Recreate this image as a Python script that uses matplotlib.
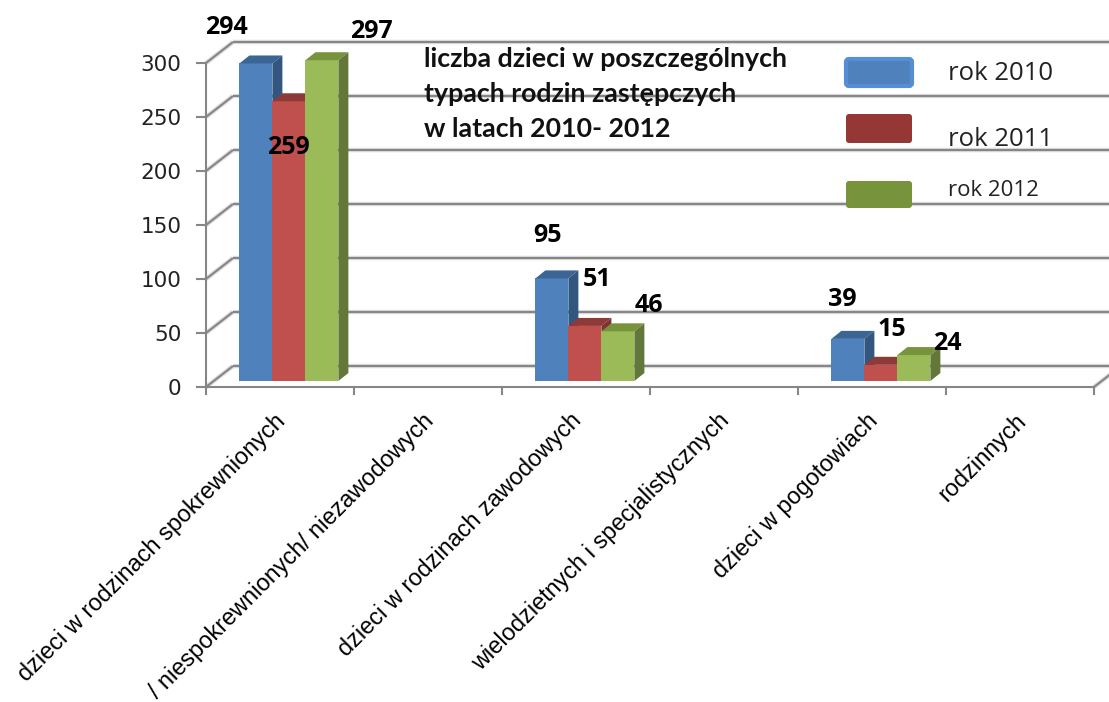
import matplotlib
matplotlib.use('Agg')
import matplotlib.pyplot as plt
from matplotlib.patches import FancyBboxPatch
from matplotlib.transforms import Affine2D

# Dane
kategorie = ['dzieci w rodzinach spokrewnionych', '/ niespokrewnionych/ niezawodowych',
             'dzieci w rodzinach zawodowych', 'wielodzietnych i specjalistycznych',
             'dzieci w pogotowiach', 'rodzinnych']
rok_2010 = [294, 0, 95, 0, 39, 0]
rok_2011 = [259, 0, 51, 0, 15, 0]
rok_2012 = [297, 0, 46, 0, 24, 0]
serie = ['rok 2010', 'rok 2011', 'rok 2012']
y_ticks = [0, 50, 100, 150, 200, 250, 300]
tytul = 'liczba dzieci w poszczególnych\ntypach rodzin zastępczych\nw latach 2010- 2012'

W, H = 1109, 702
SZARY = '#868686'
# kolory: przod, gora, bok
kolory = [('#4f81bd', '#3a6595', '#325680'),
          ('#c0504d', '#8e3a38', '#7f3331'),
          ('#9bbb59', '#77933c', '#64773a')]

fig = plt.figure(figsize=(W / 100, H / 100), dpi=100)
# os: przednia krawedz wykresu, x 206-1094, y 387-63 px
ax = fig.add_axes([206 / W, (H - 387) / H, 888 / W, 324 / H])
ax.set_xlim(0, 6)
ax.set_ylim(0, 300)
ax.patch.set_alpha(0)

px_x = 6 / 888
px_y = 300 / 324
glebia_x, glebia_y = 27 * px_x, 21 * px_y
bar_w = 33 * px_x
bok_x, bok_y = 10 * px_x, 8 * px_y
podstawa = 6 * px_y


def linia(xs, ys):
    ax.plot(xs, ys, color='#dcdcdc', lw=3.2, clip_on=False, zorder=1, solid_capstyle='butt')
    ax.plot(xs, ys, color=SZARY, lw=1.5, clip_on=False, zorder=1.5, solid_capstyle='butt')


# siatka na tylnej scianie i skosy
for t in y_ticks:
    linia([glebia_x, 6 + glebia_x], [t + glebia_y, t + glebia_y])
    linia([0, glebia_x], [t, t + glebia_y])
linia([6, 6 + glebia_x], [0, glebia_y])

# slupki
for s, wartosci in enumerate([rok_2010, rok_2011, rok_2012]):
    przod, gora, bok = kolory[s]
    for i, v in enumerate(wartosci):
        if v == 0:
            continue
        lewy = i + 0.56 - 1.5 * bar_w + s * bar_w
        ax.bar(lewy, v, bar_w, bottom=podstawa, align='edge', color=przod, zorder=3 + s, clip_on=False)
        szczyt = podstawa + v
        ax.fill([lewy, lewy + bar_w, lewy + bar_w + bok_x, lewy + bok_x],
                [szczyt, szczyt, szczyt + bok_y, szczyt + bok_y], color=gora, lw=0, zorder=3 + s, clip_on=False)
        ax.fill([lewy + bar_w, lewy + bar_w + bok_x, lewy + bar_w + bok_x, lewy + bar_w],
                [podstawa, podstawa + bok_y, szczyt + bok_y, szczyt], color=bok, lw=0, zorder=3 + s, clip_on=False)

# osie
for nazwa in ['top', 'right']:
    ax.spines[nazwa].set_visible(False)
for nazwa in ['left', 'bottom']:
    ax.spines[nazwa].set_color(SZARY)
    ax.spines[nazwa].set_linewidth(1.5)
ax.set_yticks(y_ticks)
ax.set_xticks(range(7))
ax.set_xticklabels([])
ax.set_xticks([i + 0.46 for i in range(6)], minor=True)
ax.set_xticklabels(kategorie, minor=True, rotation=45, ha='right', rotation_mode='anchor',
                   fontsize=16.9, family='Liberation Sans')
ax.tick_params(axis='x', which='major', length=6, width=1.5, color=SZARY)
ax.tick_params(axis='x', which='minor', length=0, pad=16)
ax.tick_params(axis='y', length=7.2, width=1.5, color=SZARY, labelsize=15.5, pad=10.5)
for lab in ax.get_yticklabels():
    lab.set_color('#222222')

# tekst i legenda w pikselach obrazka
piksele = Affine2D().scale(1, -1).translate(0, H)

etykiety = [(226, 28, rok_2010[0]), (371, 31, rok_2012[0]), (288, 148, rok_2011[0]),
            (548, 236, rok_2010[2]), (597, 280, rok_2011[2]), (649, 305, rok_2012[2]),
            (842, 299, rok_2010[4]), (892, 329, rok_2011[4]), (947, 343, rok_2012[4])]
for x, y, v in etykiety:
    ax.text(x, y, str(v), transform=piksele, ha='center', va='center', fontsize=18,
            fontweight='bold', family='Open Sans', color='black', zorder=10, clip_on=False)

ax.text(424, 94, tytul, transform=piksele, ha='left', va='center', fontsize=19.3, fontweight='bold',
        family='Lato', linespacing=1.56, color='#111111', zorder=10)

prostokaty = [(846, 59, 66, 27, '#4f81bd', '#558ed5'),
              (846, 114, 66, 29, '#953735', '#953735'),
              (846, 181, 66, 27, '#77933c', '#77933c')]
for x, y, w, h, kolor, ramka in prostokaty:
    ax.add_patch(FancyBboxPatch((x, y), w, h, boxstyle='round,pad=0,rounding_size=3', transform=piksele,
                                facecolor=kolor, edgecolor=ramka, lw=3 if ramka != kolor else 0,
                                clip_on=False, zorder=8))
for (x, y, rozmiar), nazwa in zip([(948, 74, 18.5), (948, 139, 18.5), (948, 190, 16)], serie):
    ax.text(x, y, nazwa, transform=piksele, ha='left', va='center', fontsize=rozmiar,
            family='Open Sans', color='#222222', zorder=10)

fig.savefig('out.png', dpi=100)
